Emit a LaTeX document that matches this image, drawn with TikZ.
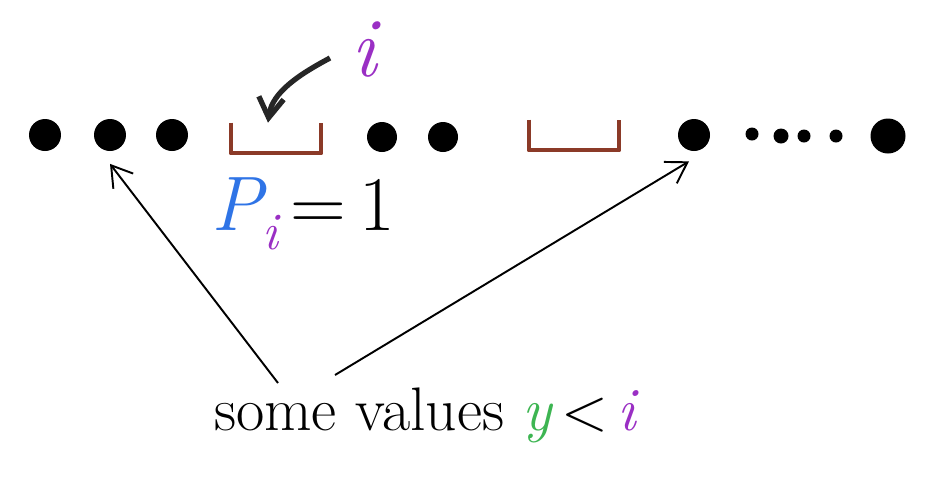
\documentclass[tikz,border=0pt]{standalone}
\usepackage{tikz}
\usetikzlibrary{positioning,arrows.meta}
\definecolor{inkbrown}{HTML}{8B3A28}
\definecolor{inkpurple}{HTML}{9A2FC4}
\definecolor{inkblue}{HTML}{2F74E6}
\definecolor{inkgreen}{HTML}{3DB552}

\begin{document}
\begin{tikzpicture}[
  x=0.02cm, y=-0.02cm,
  dot/.style={circle, fill=black, inner sep=0pt, minimum size=#1},
  slot/.style={inner sep=0pt, minimum width=1.8cm, minimum height=0.6cm},
  hole/.style={draw=inkbrown, line width=2.2pt, line join=round},
  arr/.style={-{Straight Barb[length=4mm, width=5mm]}, line width=1.1pt},
  big/.style={font=\fontsize{35}{38}\selectfont},
]
\useasboundingbox (0,0) rectangle (943,488);

% ---- Row of values ----
\node[dot=0.64cm] (d1) at (45,135)  {};
\node[dot=0.64cm] (d2) at (110,135) {};
\node[dot=0.64cm] (d3) at (172,135) {};
\node[slot]       (s1) at (276,138) {};
\node[dot=0.6cm]  (d4) at (382,137) {};
\node[dot=0.6cm]  (d5) at (443,137) {};
\node[slot]       (s2) at (574,135) {};
\node[dot=0.64cm] (d6) at (694,135) {};
\node[dot=0.26cm] (d7) at (752,134) {};
\node[dot=0.3cm]  (d8) at (781,136) {};
\node[dot=0.26cm] (d9) at (804,136) {};
\node[dot=0.26cm] (d10) at (836,136) {};
\node[dot=0.7cm]  (d11) at (888,136) {};

\draw[hole] (s1.north west) -- (s1.south west) -- (s1.south east) -- (s1.north east);
\draw[hole] (s2.north west) -- (s2.south west) -- (s2.south east) -- (s2.north east);

% ---- Index i ----
\node[font=\fontsize{48}{48}\selectfont\itshape, text=inkpurple, inner sep=0pt]
  (idx) at (364,50) {i};
\coordinate (itail) at (330,58);
\draw[-{Straight Barb[length=4mm, width=5mm]}, line width=3pt, draw=black!85]
  (itail) .. controls (300,74) and (272,92) .. ([xshift=-0.16cm]s1.north);

\node[font=\fontsize{44}{48}\selectfont] (pi) at (303,214)
  {\textcolor{inkblue}{\itshape P}\raisebox{-0.25em}{\textcolor{inkpurple}{\itshape\fontsize{30}{30}\selectfont i}}\,=\,1};

% ---- Values below i ----
\node[big, anchor=west] (lbl) at (208,415)
  {some values\hspace{0.3em}\textcolor{inkgreen}{\itshape y}\hspace{0.15em}<\hspace{0.15em}\textcolor{inkpurple}{\itshape i}};
\coordinate (lt1) at (278,383);
\coordinate (lt2) at (335,375);
\draw[arr] (lt1) -- ([yshift=-0.25cm]d2.south);
\draw[arr] (lt2) -- ([shift={(-0.1cm,-0.2cm)}]d6.south);

\end{tikzpicture}
\end{document}
